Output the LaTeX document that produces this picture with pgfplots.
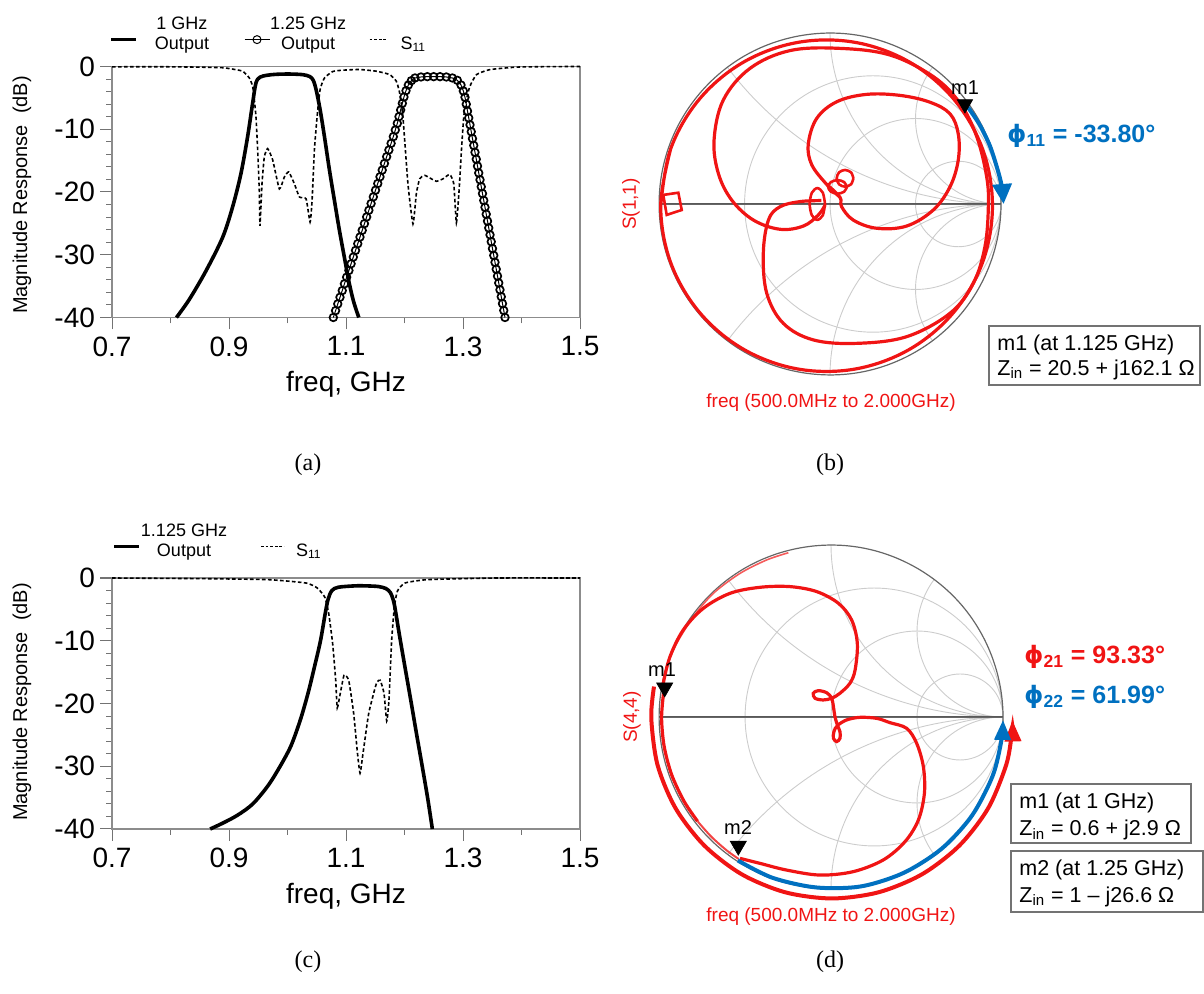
\documentclass[border=0pt]{standalone}
\usepackage{fontspec}
\setmainfont{Liberation Sans}
\newfontfamily\capfont{Liberation Serif}
\newfontfamily\phifont{DejaVu Sans}
\usepackage{pgfplots}
\pgfplotsset{compat=1.18}
\usepgfplotslibrary{smithchart}
\usetikzlibrary{arrows.meta}
\definecolor{adsred}{RGB}{240,20,20}
\definecolor{adsblue}{RGB}{0,112,192}
\newcommand\fA{\fontsize{10}{12}\selectfont}
\newcommand\fT{\fontsize{14}{16}\selectfont}
\newcommand\fR{\fontsize{9.5}{11}\selectfont}
\newcommand\fM{\fontsize{10.75}{13}\selectfont}
\newcommand\fP{\bfseries\fontsize{12.5}{15}\selectfont}
\newcommand\fC{\capfont\fontsize{12}{14}\selectfont}
\newcommand\PHI{{\phifont\bfseries\fontsize{12}{15}\selectfont ϕ}}
\pgfplotsset{
  magstyle/.style={
    scale only axis, width=234pt, height=125.5pt,
    xmin=0.7, xmax=1.5, ymin=-40, ymax=0,
    xtick={0.7,0.9,1.1,1.3,1.5}, xticklabels={0.7,0.9,1.1,1.3,1.5},
    minor xtick={0.8,1.0,1.2,1.4},
    ytick={-40,-30,-20,-10,0}, yticklabels={-40,-30,-20,-10,0},
    minor ytick={-38,-36,...,-2},
    xtick pos=bottom, ytick pos=left,
    tick align=outside,
    major tick length=6pt, minor tick length=3pt,
    tick style={black!55, line width=0.5pt},
    axis line style={black!45, line width=0.6pt},
    tick label style={font=\fT},
    yticklabel style={xshift=1pt},
    clip=false,
    legend columns=3, legend cell align=left,
    legend style={draw=none, fill=none, inner sep=0pt, outer sep=0pt,
      row sep=0pt, column sep=0pt, font=\fontsize{9}{10}\selectfont,
      nodes={inner sep=0pt, outer sep=0pt}},
  },
  s11/.style={black, line width=0.8pt, dash pattern=on 1.8pt off 1.2pt},
  smithstyle/.style={
    scale only axis, clip=false,
    xtick={0.3333,1,3}, ytick={-2,-1,-0.5,0.5,1,2},
    minor xtick={}, minor ytick={},
    xticklabels={}, yticklabels={},
    grid=major,
    major grid style={black!20, line width=0.45pt},
    axis line style={black!60, line width=0.6pt},
    major tick length=0pt, minor tick length=0pt,
  },
  tr/.style={adsred, line width=1.6pt},
}
\begin{document}
\begin{tikzpicture}
\useasboundingbox (0,0) rectangle (602pt,497pt);

% ---------------- (a)
\begin{axis}[magstyle, at={(56pt,338.25pt)}, anchor=south west,
  legend style={at={(-0.0043,1.1454)}, anchor=west}]
\addplot[black, line width=1.8pt, smooth, tension=0.5,
  legend image code/.code={\draw[black,line width=1.5pt] (0pt,-5pt) -- (12.5pt,-5pt); \path[draw=none,fill=none] (0pt,0pt) -- (21.75pt,0pt);}]
coordinates {(0.8102,-40) (0.8319,-37.16) (0.8605,-32.6) (0.889,-27.26) (0.9061,-22.4) (0.9204,-17.08) (0.9318,-11.19) (0.9404,-5.84) (0.9461,-2.62) (0.953,-1.7) (0.965,-1.4) (0.98,-1.25) (1.003,-1.2) (1.026,-1.3) (1.038,-1.6) (1.044,-2.2) (1.0489,-3.69) (1.0558,-6.9) (1.0632,-11.2) (1.0717,-16.5) (1.0803,-21.4) (1.0889,-26.2) (1.0974,-30.5) (1.1048,-34.2) (1.1128,-37.4) (1.1219,-40)};
\addlegendentry{\begin{tabular}{@{}c@{}}1 GHz\\Output\end{tabular}}
\addplot[black, line width=0.5pt, mark=o, mark size=1.9pt, mark options={line width=0.85pt},
  legend image code/.code={\draw[black,line width=0.5pt] (17.75pt,-5pt) -- (30.25pt,-5pt); \draw[black,line width=0.5pt] (24pt,-5pt) circle (2pt); \path[draw=none,fill=none] (0pt,0pt) -- (30pt,0pt);}]
coordinates {(1.0783,-40) (1.0822,-38.91) (1.0859,-37.84) (1.0897,-36.78) (1.0936,-35.71) (1.0973,-34.64) (1.1011,-33.58) (1.1050,-32.51) (1.1087,-31.44) (1.1125,-30.37) (1.1163,-29.31) (1.1201,-28.24) (1.1239,-27.18) (1.1277,-26.11) (1.1315,-25.05) (1.1353,-23.98) (1.1391,-22.91) (1.1429,-21.84) (1.1467,-20.78) (1.1505,-19.71) (1.1543,-18.65) (1.1581,-17.58) (1.1619,-16.51) (1.1657,-15.45) (1.1695,-14.38) (1.1733,-13.31) (1.1771,-12.25) (1.1809,-11.18) (1.1843,-10.12) (1.1877,-9.06) (1.1906,-7.99) (1.1934,-6.93) (1.1963,-5.87) (1.1991,-4.86) (1.2026,-3.85) (1.2066,-2.95) (1.2117,-2.26) (1.2179,-1.83) (1.2282,-1.67) (1.2390,-1.62) (1.2499,-1.62) (1.2607,-1.62) (1.2715,-1.67) (1.2818,-1.83) (1.2903,-2.20) (1.2966,-2.95) (1.3006,-3.90) (1.3034,-4.91) (1.3056,-6.01) (1.3077,-7.11) (1.3098,-8.20) (1.3120,-9.30) (1.3141,-10.39) (1.3162,-11.49) (1.3184,-12.58) (1.3205,-13.68) (1.3227,-14.77) (1.3248,-15.87) (1.3269,-16.97) (1.3291,-18.06) (1.3312,-19.16) (1.3333,-20.25) (1.3355,-21.35) (1.3376,-22.44) (1.3397,-23.54) (1.3419,-24.64) (1.3440,-25.73) (1.3462,-26.83) (1.3483,-27.92) (1.3504,-29.02) (1.3526,-30.11) (1.3547,-31.21) (1.3568,-32.30) (1.3590,-33.40) (1.3611,-34.50) (1.3632,-35.59) (1.3654,-36.69) (1.3675,-37.79) (1.3697,-38.88) (1.3718,-40)};
\addlegendentry{\begin{tabular}{@{}c@{}}1.25 GHz\\Output\end{tabular}}
\addplot[s11, smooth, tension=0.3,
  legend image code/.code={\draw[black,line width=0.7pt,dash pattern=on 1.4pt off 0.9pt] (11.75pt,-5pt) -- (20.75pt,-5pt); \path[draw=none,fill=none] (0pt,0pt) -- (27.25pt,0pt);}]
coordinates {(0.70,-0.05) (0.80,-0.05) (0.86,-0.12) (0.89,-0.2) (0.905,-0.4) (0.9233,-0.75) (0.9347,-1.82) (0.9404,-3.16) (0.9433,-5.3) (0.9461,-8.0) (0.949,-13.3) (0.9518,-19.8) (0.953,-25.4) (0.9564,-18.7) (0.9604,-14.4) (0.9661,-13.1) (0.9747,-14.9) (0.9861,-19.5) (0.9947,-17.6) (1.0021,-16.8) (1.0118,-18.7) (1.0204,-20.8) (1.0318,-21.1) (1.0386,-24.8) (1.042,-21.4) (1.046,-13.3) (1.0506,-8.0) (1.0557,-3.7) (1.0632,-1.82) (1.0774,-0.8) (1.0945,-0.59) (1.123,-0.48) (1.1517,-0.75) (1.1745,-1.28) (1.186,-2.35) (1.1917,-4.2) (1.1973,-8.0) (1.2059,-18.7) (1.2145,-25.1) (1.2202,-20.3) (1.2259,-17.9) (1.2345,-17.35) (1.2459,-17.9) (1.2545,-18.3) (1.2659,-17.9) (1.2773,-17.2) (1.2842,-18.7) (1.2887,-24.9) (1.2933,-19.8) (1.2973,-13.4) (1.3013,-8.0) (1.3059,-5.3) (1.3116,-3.2) (1.323,-1.3) (1.3458,-0.5) (1.3915,-0.1) (1.45,-0.02) (1.5,0)};
\addlegendentry{\begin{tabular}{@{}l@{}}\mbox{}\\S\textsubscript{11}\end{tabular}}
\end{axis}

% ---------------- (c)
\begin{axis}[magstyle, at={(56pt,82.5pt)}, anchor=south west,
  legend columns=2,
  legend style={at={(0.0021,1.1653)}, anchor=west}]
\addplot[black, line width=1.8pt, smooth, tension=0.5,
  legend image code/.code={\draw[black,line width=1.5pt] (0pt,-5pt) -- (12.5pt,-5pt); \path[draw=none,fill=none] (0pt,0pt) -- (12.5pt,0pt);}]
coordinates {(0.8678,-40) (0.8886,-39.1) (0.9146,-37.8) (0.9407,-36.0) (0.9667,-33.1) (0.9862,-30.2) (1.0057,-26.8) (1.022,-22.6) (1.035,-18.4) (1.046,-14.2) (1.0564,-10.0) (1.0642,-5.8) (1.0694,-3.4) (1.0759,-2.0) (1.087,-1.47) (1.1163,-1.25) (1.1358,-1.26) (1.1553,-1.36) (1.1683,-1.68) (1.1761,-2.36) (1.1813,-3.67) (1.1846,-5.25) (1.191,-8.9) (1.2008,-14.2) (1.2106,-19.4) (1.2203,-24.7) (1.2301,-29.9) (1.2398,-35.2) (1.2476,-40)};
\addlegendentry{\begin{tabular}{@{}c@{}}1.125 GHz\\Output\end{tabular}}
\addplot[s11, smooth, tension=0.3,
  legend image code/.code={\draw[black,line width=0.7pt,dash pattern=on 1.4pt off 0.9pt] (17pt,-5pt) -- (28.5pt,-5pt); \path[draw=none,fill=none] (0pt,0pt) -- (34.5pt,0pt);}]
coordinates {(0.7,0) (0.85,-0.1) (0.9667,-0.26) (1.0317,-0.8) (1.051,-1.6) (1.064,-3.1) (1.0707,-5.8) (1.0772,-10.5) (1.0824,-16.3) (1.085,-20.7) (1.0902,-18.4) (1.0967,-15.5) (1.1046,-16.3) (1.113,-21.5) (1.1195,-27.8) (1.124,-31.1) (1.1293,-27.8) (1.139,-21.5) (1.152,-16.8) (1.1585,-16.3) (1.165,-18.4) (1.1696,-22.8) (1.1735,-19.4) (1.178,-10.0) (1.1826,-4.7) (1.1878,-2.1) (1.2008,-0.8) (1.24,-0.26) (1.357,0) (1.5,0)};
\addlegendentry{\begin{tabular}{@{}l@{}}\mbox{}\\S\textsubscript{11}\end{tabular}}
\end{axis}

% ---------------- (b)
\begin{smithchart}[smithstyle, at={(415pt,395pt)}, anchor=center, width=171pt, height=171pt]
\addplot[is smithchart cs, black!65, line width=0.5pt] coordinates {(-1,0) (1,0)};
\addplot[is smithchart cs, tr, smooth, tension=0.6] coordinates {(-0.99,-0.01) (-0.932,0.322) (-0.763,0.614) (-0.505,0.830) (-0.188,0.945) (0.148,0.945) (0.465,0.830) (0.723,0.614) (0.892,0.322) (0.95,-0.01) (0.892,-0.342) (0.723,-0.634) (0.465,-0.850) (0.148,-0.965) (-0.188,-0.965) (-0.505,-0.850) (-0.763,-0.634) (-0.932,-0.342) (-0.99,-0.01) (-0.932,0.322)};
\addplot[is smithchart cs, tr, smooth, tension=0.6] coordinates {(-0.05,0.02) (-0.175,0.014) (-0.292,-0.016) (-0.36,-0.094) (-0.39,-0.288) (-0.37,-0.522) (-0.273,-0.698) (-0.097,-0.795) (0.156,-0.815) (0.448,-0.776) (0.702,-0.639) (0.838,-0.464) (0.906,-0.25) (0.926,-0.016) (0.916,0.16) (0.858,0.394) (0.76,0.589) (0.604,0.745) (0.351,0.871) (0.058,0.91) (-0.234,0.897) (-0.468,0.793) (-0.624,0.608) (-0.678,0.374) (-0.653,0.179) (-0.575,0.023) (-0.448,-0.094) (-0.292,-0.148) (-0.156,-0.129) (-0.068,-0.064) (-0.029,-0.006)};
\addplot[is smithchart cs, tr, smooth, tension=0.6] coordinates {(0.058,0.04) (-0.02,0.115) (-0.107,0.23) (-0.127,0.35) (-0.078,0.50) (0.04,0.598) (0.214,0.641) (0.41,0.635) (0.585,0.595) (0.702,0.527) (0.75,0.41) (0.75,0.257) (0.702,0.101) (0.604,-0.035) (0.448,-0.129) (0.273,-0.142) (0.136,-0.094) (0.068,-0.016) (0.058,0.04) (-0.02,0.115)};
\addplot[is smithchart cs, tr, line width=1.3pt, smooth] coordinates {(0.137,0.15) (0.123,0.185) (0.088,0.199) (0.053,0.185) (0.039,0.15) (0.053,0.115) (0.088,0.101) (0.123,0.115) (0.137,0.15)};
\addplot[is smithchart cs, tr, line width=1.3pt, smooth] coordinates {(0.099,0.10) (0.083,0.128) (0.044,0.14) (0.005,0.128) (-0.011,0.10) (0.005,0.072) (0.044,0.06) (0.083,0.072) (0.099,0.10)};
\addplot[is smithchart cs, tr, line width=1.3pt, smooth] coordinates {(-0.029,0.0) (-0.042,0.066) (-0.074,0.093) (-0.106,0.066) (-0.119,0.0) (-0.106,-0.066) (-0.074,-0.093) (-0.042,-0.066) (-0.029,0.0)};
\addplot[is smithchart cs, tr, line width=1.3pt] coordinates {(-0.975,0.053) (-0.887,0.066) (-0.867,-0.035) (-0.955,-0.064) (-0.975,0.053)};
\addplot[is smithchart cs, adsblue, line width=2pt, smooth, -{Triangle[length=10pt,width=9.5pt]}] coordinates {(0.807,0.565) (0.874,0.465) (0.935,0.34) (0.978,0.208) (1.004,0.106) (1.015,0.0)};
\addplot[is smithchart cs, only marks, mark=triangle*, mark size=4.4pt, mark options={rotate=180, black, fill=black}] coordinates {(0.789,0.584)};
\end{smithchart}

% ---------------- (d)
\begin{smithchart}[smithstyle, at={(415.5pt,138.5pt)}, anchor=center, width=172pt, height=172pt]
\addplot[is smithchart cs, black!65, line width=0.5pt] coordinates {(-1,0) (1,0)};
\addplot[is smithchart cs, adsred!70, line width=0.8pt, smooth] coordinates {(-0.248,0.955) (-0.374,0.913) (-0.529,0.835) (-0.684,0.719) (-0.8,0.583) (-0.897,0.428) (-0.955,0.293) (-0.984,0.176)};
\addplot[is smithchart cs, tr, smooth] coordinates {(-0.970,0.171) (-0.985,0) (-0.970,-0.171) (-0.926,-0.337) (-0.853,-0.4925) (-0.776,-0.606)};
\addplot[is smithchart cs, adsred!80, line width=1pt, smooth] coordinates {(-0.776,-0.606) (-0.696,-0.696) (-0.606,-0.776) (-0.536,-0.826)};
\addplot[is smithchart cs, tr, smooth, tension=0.55] coordinates {(-0.970,0.171) (-0.975,0.196) (-0.936,0.351) (-0.859,0.506) (-0.742,0.632) (-0.587,0.719) (-0.413,0.754) (-0.238,0.758) (-0.083,0.729) (0.043,0.661) (0.12,0.564) (0.153,0.428) (0.14,0.273) (0.11,0.196) (0.052,0.138) (0.004,0.109) (-0.045,0.099) (-0.093,0.109) (-0.103,0.138) (-0.074,0.153) (-0.025,0.141) (0.004,0.109) (0.014,0.06) (0.023,0.002) (0.037,-0.047) (0.052,-0.085) (0.052,-0.124) (0.033,-0.143) (0.014,-0.124) (0.017,-0.085) (0.037,-0.05) (0.091,-0.017) (0.169,-0.002) (0.266,-0.008) (0.343,-0.033) (0.44,-0.066) (0.498,-0.153) (0.537,-0.289) (0.543,-0.444) (0.508,-0.599) (0.43,-0.725) (0.304,-0.831) (0.13,-0.899) (-0.064,-0.919) (-0.258,-0.89) (-0.413,-0.851) (-0.529,-0.822)};
\addplot[is smithchart cs, adsred, line width=2pt, smooth, -{Triangle[length=10.5pt,width=8pt]}] coordinates {(-1.029,0.177) (-1.045,-0.005) (-1.009,-0.277) (-0.904,-0.53) (-0.737,-0.747) (-0.52,-0.914) (-0.267,-1.019) (0.005,-1.055) (0.277,-1.019) (0.53,-0.914) (0.747,-0.747) (0.914,-0.53) (1.019,-0.277) (1.051,-0.097) (1.055,-0.02)};
\addplot[is smithchart cs, adsblue, line width=2pt, smooth, -{Triangle[length=10pt,width=8pt]}] coordinates {(-0.542,-0.834) (-0.34,-0.935) (-0.087,-0.991) (0.174,-0.985) (0.423,-0.906) (0.643,-0.766) (0.819,-0.574) (0.94,-0.342) (0.99,-0.139) (1.0,-0.017)};
\addplot[is smithchart cs, only marks, mark=triangle*, mark size=4.6pt, mark options={rotate=180, black, fill=black}] coordinates {(-0.967,0.171) (-0.539,-0.749)};
\end{smithchart}

% ---------------- text
\begin{scope}[shift={(0pt,497pt)}, x=0.5pt, y=-0.5pt]
\node[rotate=90, font=\fA, inner sep=0pt] at (22,195) {Magnitude Response\ \ (dB)};
\node[anchor=base, font=\fT, inner sep=0pt] at (346,392) {freq, GHz};
\node[font=\fC, inner sep=0pt] at (308,465) {(a)};
\node[rotate=90, font=\fA, inner sep=0pt] at (22,702) {Magnitude Response\ \ (dB)};
\node[anchor=base, font=\fT, inner sep=0pt] at (346,903.5) {freq, GHz};
\node[font=\fC, inner sep=0pt] at (308,962) {(c)};
\node[font=\fC, inner sep=0pt] at (830,465) {(b)};
\node[font=\fC, inner sep=0pt] at (830,962) {(d)};
% (b)
\node[rotate=90, text=adsred, font=\fR, inner sep=0pt] at (631,204) {S(1,1)};
\node[text=adsred, font=\fR, inner sep=0pt] at (831,403) {freq (500.0MHz to 2.000GHz)};
\node[font=\fontsize{10}{12}\selectfont, inner sep=0pt] at (965,88) {m1};
\node[anchor=west, text=adsblue, font=\fP, inner sep=0pt] at (1007,136) {\PHI\textsubscript{11} = -33.80°};
\draw[black!55, line width=0.6pt] (989,326) rectangle (1200,385);
\node[anchor=base west, font=\fM, inner sep=0pt] at (997,350.5) {m1 (at 1.125 GHz)};
\node[anchor=base west, font=\fM, inner sep=0pt] at (997,375.5) {Z\textsubscript{in} = 20.5 + j162.1 Ω};
% (d)
\node[rotate=90, text=adsred, font=\fR, inner sep=0pt] at (632,717) {S(4,4)};
\node[text=adsred, font=\fR, inner sep=0pt] at (831,917) {freq (500.0MHz to 2.000GHz)};
\node[font=\fontsize{10}{12}\selectfont, inner sep=0pt] at (662,670) {m1};
\node[font=\fontsize{10}{12}\selectfont, inner sep=0pt] at (738,828) {m2};
\node[anchor=west, text=adsred, font=\fP, inner sep=0pt] at (1024,657) {\PHI\textsubscript{21} = 93.33°};
\node[anchor=west, text=adsblue, font=\fP, inner sep=0pt] at (1024,697) {\PHI\textsubscript{22} = 61.99°};
\draw[black!55, line width=0.6pt] (1011,784) rectangle (1191,843);
\node[anchor=base west, font=\fM, inner sep=0pt] at (1019,809) {m1 (at 1 GHz)};
\node[anchor=base west, font=\fM, inner sep=0pt] at (1019,836) {Z\textsubscript{in} = 0.6 + j2.9 Ω};
\draw[black!55, line width=0.6pt] (1011,851) rectangle (1203,912);
\node[anchor=base west, font=\fM, inner sep=0pt] at (1019,876) {m2 (at 1.25 GHz)};
\node[anchor=base west, font=\fM, inner sep=0pt] at (1019,902.5) {Z\textsubscript{in} = 1 – j26.6 Ω};
\end{scope}
\end{tikzpicture}
\end{document}
